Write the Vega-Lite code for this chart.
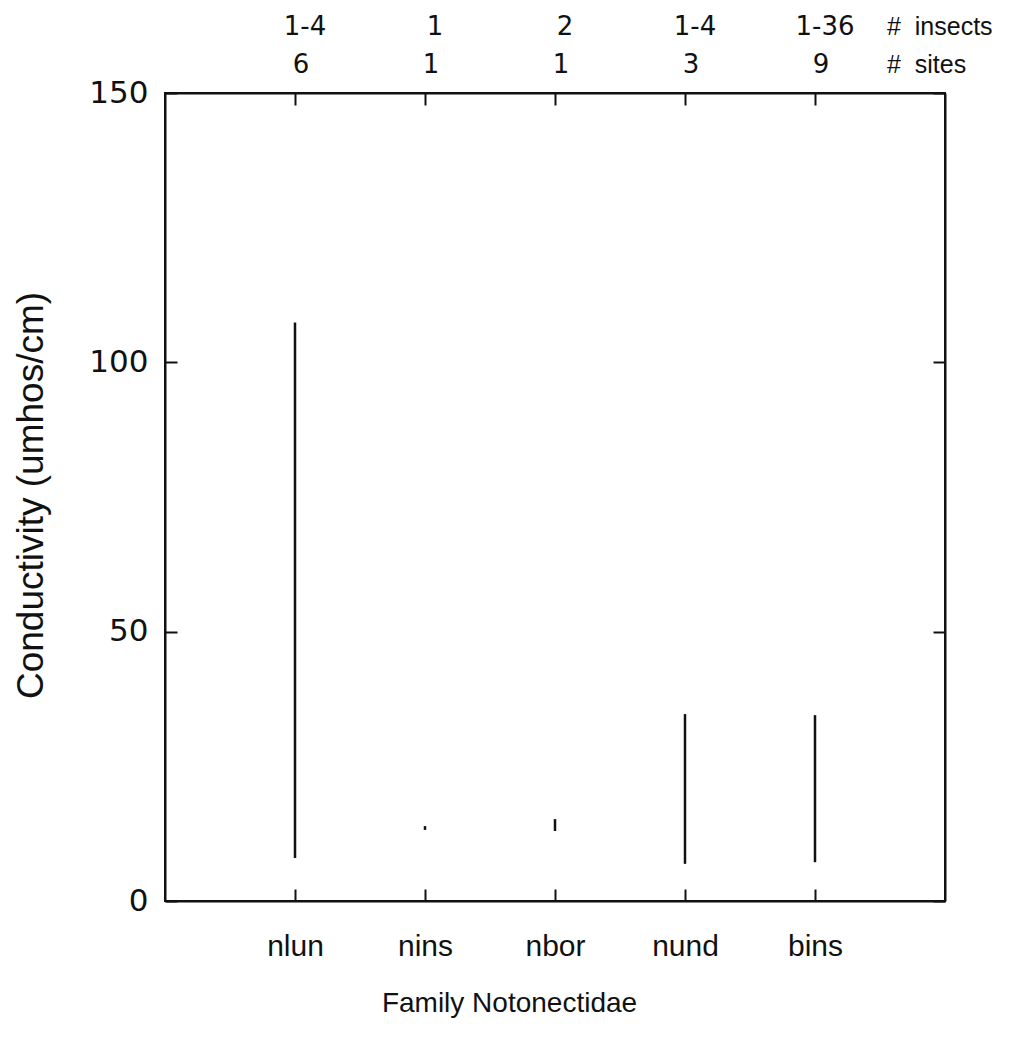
{
  "$schema": "https://vega.github.io/schema/vega-lite/v6.json",
  "width": 780,
  "height": 808,
  "autosize": {"type": "none"},
  "padding": {"left": 165, "top": 93, "right": 73, "bottom": 141},
  "background": "white",
  "config": {
    "view": {"stroke": "#111", "strokeWidth": 2},
    "font": "Liberation Sans",
    "axis": {"domainColor": "#111", "domainWidth": 2, "tickColor": "#111", "tickWidth": 2, "labelColor": "#111", "titleColor": "#111", "titleFontWeight": "normal", "grid": false, "labelFont": "Liberation Sans", "titleFont": "Liberation Sans"}
  },
  "datasets": {
    "ranges": [
      {"family": "nlun", "low": 8, "high": 107.4, "insects": "1-4", "sites": "6"},
      {"family": "nins", "low": 13.2, "high": 13.9, "insects": "1", "sites": "1"},
      {"family": "nbor", "low": 13, "high": 15.2, "insects": "2", "sites": "1"},
      {"family": "nund", "low": 6.9, "high": 34.7, "insects": "1-4", "sites": "3"},
      {"family": "bins", "low": 7.2, "high": 34.5, "insects": "1-36", "sites": "9"}
    ],
    "headers": [
      {"family": "bins", "label": "#\u00a0 insects", "row": "insects"},
      {"family": "bins", "label": "#\u00a0 sites", "row": "sites"}
    ]
  },
  "resolve": {"axis": {"x": "independent", "y": "independent"}},
  "layer": [
    {
      "data": {"name": "ranges"},
      "mark": {"type": "rule", "strokeWidth": 2.5, "color": "#111"},
      "encoding": {
        "x": {"field": "family", "type": "nominal",
              "scale": {"type": "point", "padding": 1, "domain": ["nlun", "nins", "nbor", "nund", "bins"]},
              "axis": {"orient": "bottom", "tickSize": -12, "labelPadding": 42, "labelFontSize": 30, "labelAngle": 0,
                       "title": "Family Notonectidae", "titleFontSize": 28, "titleX": 344, "titleY": 110, "titleBaseline": "alphabetic", "titleAlign": "center"}},
        "y": {"field": "low", "type": "quantitative",
              "scale": {"domain": [0, 150], "nice": false},
              "axis": {"orient": "left", "values": [0, 50, 100, 150], "tickSize": -12, "labelPadding": 29, "labelFontSize": 31, "labelFont": "DejaVu Sans",
                       "title": "Conductivity (umhos/cm)", "titleFontSize": 37, "titleX": -123, "titleY": 402, "titleAngle": -90, "titleAlign": "center", "titleBaseline": "alphabetic"}},
        "y2": {"field": "high"}
      }
    },
    {
      "data": {"name": "ranges"},
      "mark": {"type": "text", "fontSize": 26, "font": "DejaVu Sans", "color": "#111", "baseline": "middle", "dx": 10},
      "encoding": {
        "x": {"field": "family", "type": "nominal",
              "axis": {"orient": "top", "tickSize": -12, "labels": false, "title": null}},
        "y": {"datum": 162.2, "type": "quantitative",
              "axis": {"orient": "right", "values": [0, 50, 100, 150], "tickSize": -12, "labels": false, "title": null}},
        "text": {"field": "insects"}
      }
    },
    {
      "data": {"name": "ranges"},
      "mark": {"type": "text", "fontSize": 26, "font": "DejaVu Sans", "color": "#111", "baseline": "middle", "dx": 6},
      "encoding": {
        "x": {"field": "family", "type": "nominal", "axis": null},
        "y": {"datum": 155.2, "type": "quantitative", "axis": null},
        "text": {"field": "sites"}
      }
    },
    {
      "data": {"name": "headers"},
      "transform": [{"filter": "datum.row == 'insects'"}],
      "mark": {"type": "text", "fontSize": 25, "color": "#111", "baseline": "middle", "align": "left", "dx": 72},
      "encoding": {
        "x": {"field": "family", "type": "nominal", "axis": null},
        "y": {"datum": 162.2, "type": "quantitative", "axis": null},
        "text": {"field": "label"}
      }
    },
    {
      "data": {"name": "headers"},
      "transform": [{"filter": "datum.row == 'sites'"}],
      "mark": {"type": "text", "fontSize": 25, "color": "#111", "baseline": "middle", "align": "left", "dx": 72},
      "encoding": {
        "x": {"field": "family", "type": "nominal", "axis": null},
        "y": {"datum": 155.2, "type": "quantitative", "axis": null},
        "text": {"field": "label"}
      }
    }
  ]
}
